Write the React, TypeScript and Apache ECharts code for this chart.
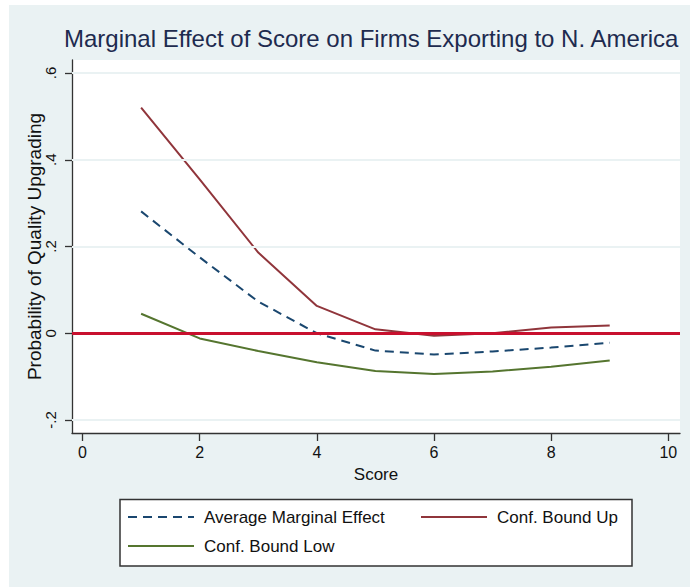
import React, { useEffect, useRef } from "react";
import * as echarts from "echarts";

// Score values on the x axis
const scores = [1, 2, 3, 4, 5, 6, 7, 8, 9];
// Average marginal effect and its confidence bounds
const avgEffect = [0.281, 0.175, 0.073, 0.0, -0.04, -0.049, -0.042, -0.033, -0.022];
const boundUp = [0.52, 0.355, 0.186, 0.063, 0.009, -0.006, 0.0, 0.013, 0.018];
const boundLow = [0.045, -0.012, -0.041, -0.067, -0.087, -0.094, -0.088, -0.077, -0.063];

const xTicks = [0, 2, 4, 6, 8, 10];
const yTicks = [-0.2, 0, 0.2, 0.4, 0.6];
const gridLines = [-0.2, 0.2, 0.4, 0.6];
const refLine = 0;

const FONT = "Liberation Sans, Arial, sans-serif";
const BG = "#EAF2F3";

const pairs = (ys: number[]) => scores.map((x, i) => [x, ys[i]]);

export default function App() {
  const ref = useRef<HTMLDivElement>(null);

  useEffect(() => {
    if (!ref.current) return;
    const chart = echarts.init(ref.current, undefined, { renderer: "svg" });
    const fmtY = (v: number) => {
      if (Math.abs(v) < 1e-9) return "0";
      return v.toFixed(1).replace("0.", ".");
    };
    const legendCommon = {
      orient: "vertical",
      top: 507,
      padding: 0,
      itemWidth: 66,
      itemHeight: 14,
      itemGap: 9,
      itemStyle: { opacity: 0 },
      textStyle: { fontFamily: FONT, fontSize: 17, lineHeight: 20, color: "#111", padding: [0, 0, 0, 5] },
    };
    chart.setOption({
      animation: false,
      backgroundColor: "#ffffff",
      textStyle: { fontFamily: FONT },
      title: {
        text: "Marginal Effect of Score on Firms Exporting to N. America",
        left: 64,
        top: 26,
        padding: 0,
        textStyle: { fontFamily: FONT, fontSize: 24, fontWeight: "normal", color: "#1E2B4F" },
      },
      graphic: [
        { type: "rect", z: -10, silent: true, shape: { x: 9, y: 5, width: 681, height: 582 }, style: { fill: BG } },
        { type: "rect", z: -9, silent: true, shape: { x: 72, y: 60, width: 608, height: 373 }, style: { fill: "#ffffff" } },
        {
          type: "rect",
          z: 1,
          silent: true,
          shape: { x: 120, y: 499.5, width: 512, height: 66.5 },
          style: { fill: "#ffffff", stroke: "#333333", lineWidth: 1.5 },
        },
      ],
      grid: { left: 72, top: 60, right: 10, bottom: 154, show: false },
      xAxis: {
        type: "value",
        min: -0.18,
        max: 10.2,
        name: "Score",
        nameLocation: "middle",
        nameGap: 33,
        nameMoveOverlap: false,
        nameTextStyle: { fontFamily: FONT, fontSize: 17, color: "#111" },
        axisLine: { show: true, onZero: false, lineStyle: { color: "#333", width: 1.3 } },
        axisTick: { show: true, length: 8, customValues: xTicks, lineStyle: { color: "#333", width: 1.3 } },
        axisLabel: { customValues: xTicks, fontSize: 16, color: "#111", margin: 11, fontFamily: FONT },
        splitLine: { show: false },
      },
      yAxis: {
        type: "value",
        min: -0.23,
        max: 0.63,
        name: "Probability of Quality Upgrading",
        nameLocation: "middle",
        nameGap: 28,
        nameRotate: 90,
        nameMoveOverlap: false,
        nameTextStyle: { fontFamily: FONT, fontSize: 19, color: "#111" },
        axisLine: { show: true, onZero: false, lineStyle: { color: "#333", width: 1.3 } },
        axisTick: { show: true, length: 7, customValues: yTicks, lineStyle: { color: "#333", width: 1.3 } },
        axisLabel: {
          customValues: yTicks,
          rotate: 90,
          fontSize: 15,
          color: "#111",
          margin: 14,
          fontFamily: FONT,
          formatter: fmtY,
        },
        splitLine: { show: false },
      },
      legend: [
        { ...legendCommon, left: 127, data: ["Average Marginal Effect", "Conf. Bound Low"] },
        { ...legendCommon, left: 420, data: ["Conf. Bound Up"] },
      ],
      series: [
        {
          name: "gridlines",
          type: "line",
          data: [],
          z: 1,
          silent: true,
          markLine: {
            silent: true,
            symbol: "none",
            label: { show: false },
            lineStyle: { color: BG, width: 2, type: "solid" },
            data: gridLines.map((v) => ({ yAxis: v })),
          },
        },
        {
          name: "Average Marginal Effect",
          type: "line",
          data: pairs(avgEffect),
          showSymbol: false,
          symbol: "none",
          z: 3,
          lineStyle: { color: "#1A476F", width: 2, type: [9, 6] },
          itemStyle: { color: "#1A476F" },
        },
        {
          name: "Conf. Bound Up",
          type: "line",
          data: pairs(boundUp),
          showSymbol: false,
          symbol: "none",
          z: 3,
          lineStyle: { color: "#90353B", width: 2 },
          itemStyle: { color: "#90353B" },
        },
        {
          name: "Conf. Bound Low",
          type: "line",
          data: pairs(boundLow),
          showSymbol: false,
          symbol: "none",
          z: 3,
          lineStyle: { color: "#55752F", width: 2 },
          itemStyle: { color: "#55752F" },
        },
        {
          name: "reference",
          type: "line",
          data: [],
          z: 5,
          silent: true,
          markLine: {
            silent: true,
            symbol: "none",
            label: { show: false },
            lineStyle: { color: "#C8102E", width: 3, type: "solid" },
            data: [{ yAxis: refLine }],
          },
        },
      ],
    });
    return () => chart.dispose();
  }, []);

  return (
    <div
      ref={ref}
      style={{ position: "absolute", left: 0, top: 0, width: 690, height: 587 }}
    />
  );
}
